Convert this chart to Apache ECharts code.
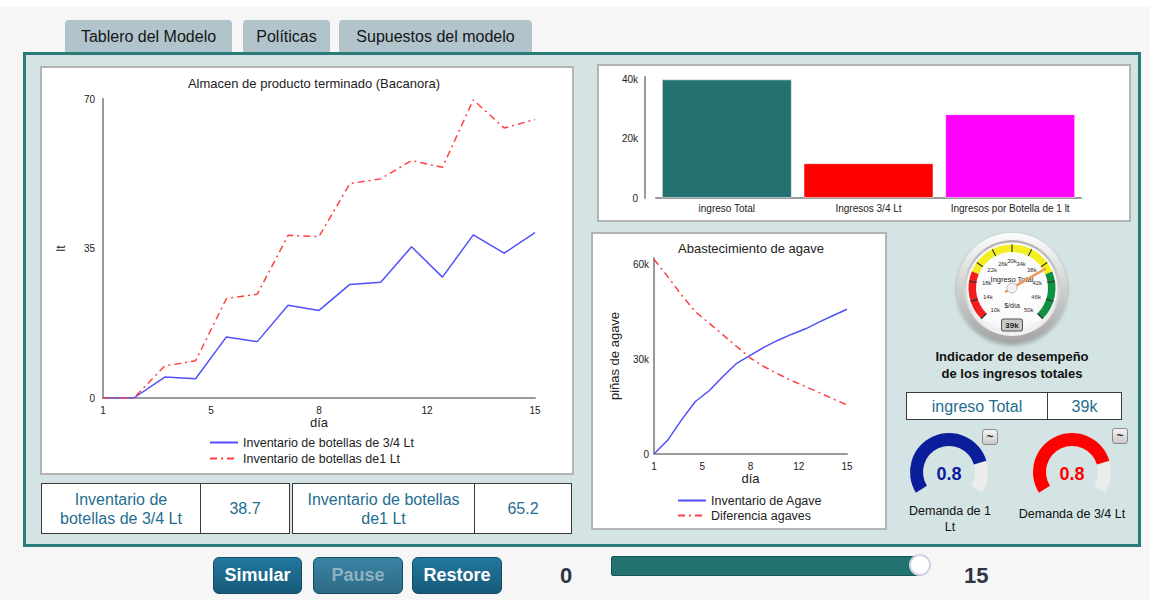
<!DOCTYPE html>
<html>
<head>
<meta charset="utf-8">
<script src="https://cdn.jsdelivr.net/npm/echarts@6/dist/echarts.min.js"></script>
<style>
html,body{margin:0;padding:0;width:1150px;height:600px;overflow:hidden;background:#f6f6f6;font-family:"Liberation Sans",Arial,sans-serif;}
.abs{position:absolute;box-sizing:border-box;}
.tab{background:#b1c3cb;border-radius:4px 4px 0 0;font-size:16px;color:#151515;display:flex;align-items:center;justify-content:center;}
.box{background:#fff;border:2px solid #b4b4b4;}
.vt{background:#fff;border:1.5px solid #3a3a3a;display:flex;color:#1f6e8f;font-size:16px;line-height:19px;}
.vt div{display:flex;align-items:center;justify-content:center;text-align:center;}
.btn{border-radius:6px;background:linear-gradient(#2378a0,#165a78);border:1px solid #124b63;color:#fff;font-family:"Liberation Sans Narrow","Liberation Sans",sans-serif;font-weight:bold;font-size:18px;display:flex;align-items:center;justify-content:center;}
.tl{width:16px;height:16px;border-radius:3px;background:linear-gradient(#f4f4f4,#c9c9c9);border:1px solid #8c8c8c;font-size:12px;font-weight:bold;color:#333;display:flex;align-items:center;justify-content:center;}
.big{font-family:"Liberation Sans Narrow","Liberation Sans",sans-serif;font-weight:bold;font-size:22px;color:#2e3546;}
#chart{position:absolute;left:0;top:0;width:1150px;height:600px;}
</style>
</head>
<body>
<div class="abs" style="left:0;top:0;width:1150px;height:7px;background:#fff"></div>
<div class="abs tab" style="left:65px;top:20px;width:167px;height:33px">Tablero del Modelo</div>
<div class="abs tab" style="left:243px;top:20px;width:87px;height:33px">Políticas</div>
<div class="abs tab" style="left:339px;top:20px;width:193px;height:33px">Supuestos del modelo</div>
<div class="abs" style="left:23px;top:52px;width:1118px;height:495px;border:3.5px solid #2b7b79;background:#d4e3e3"></div>
<div class="abs box" style="left:40px;top:66px;width:534px;height:409px"></div>
<div class="abs box" style="left:597px;top:64px;width:534px;height:158px"></div>
<div class="abs box" style="left:591px;top:232px;width:296px;height:298px"></div>

<div class="abs vt" style="left:41px;top:483px;width:249px;height:51px">
  <div style="width:158px;border-right:1.5px solid #3a3a3a">Inventario de<br>botellas de 3/4 Lt</div>
  <div style="flex:1" id="v34"></div>
</div>
<div class="abs vt" style="left:292px;top:483px;width:280px;height:51px">
  <div style="width:181px;border-right:1.5px solid #3a3a3a">Inventario de botellas<br>de1 Lt</div>
  <div style="flex:1" id="v1"></div>
</div>

<div class="abs" style="left:905px;top:348px;width:214px;text-align:center;font-weight:bold;font-size:13px;line-height:17px;color:#111">Indicador de desempeño<br>de los ingresos totales</div>
<div class="abs vt" style="left:906px;top:392px;width:216px;height:28px">
  <div style="width:140px;border-right:1.5px solid #3a3a3a">ingreso Total</div>
  <div style="flex:1" id="vTot"></div>
</div>
<div class="abs tl" style="left:982px;top:429px">~</div>
<div class="abs tl" style="left:1112px;top:428px">~</div>
<div class="abs" style="left:890px;top:503px;width:120px;text-align:center;font-size:12.5px;line-height:16px;color:#111">Demanda de 1<br>Lt</div>
<div class="abs" style="left:1005px;top:506px;width:134px;text-align:center;font-size:12.5px;line-height:16px;color:#111">Demanda de 3/4 Lt</div>

<div class="abs btn" style="left:213px;top:557px;width:89px;height:37px">Simular</div>
<div class="abs btn" style="left:313px;top:557px;width:90px;height:37px;background:linear-gradient(#3b83a3,#2d6b86);color:#8fb2c2">Pause</div>
<div class="abs btn" style="left:412px;top:557px;width:90px;height:37px">Restore</div>
<div class="abs big" style="left:560px;top:563px">0</div>
<div class="abs" style="left:611px;top:556px;width:311px;height:20px;background:#227272;border:1px solid #17555a;border-radius:2px"></div>
<div class="abs" style="left:909px;top:554px;width:22px;height:22px;border-radius:50%;background:#fff;border:2.5px solid #d3d3e6"></div>
<div class="abs big" style="left:964px;top:563px">15</div>

<div id="chart"></div>
<script>
// ---------- data ----------
const days = [1,2,3,4,5,6,7,8,9,10,11,12,13,14,15];
const dayTicks = [1,4.5,8,11.5,15];
const dayTickLabels = ['1','5','8','12','15'];

const inv34 = [0,0,4.9,4.5,14.3,13.2,21.7,20.5,26.6,27.1,35.4,28.3,38.2,33.9,38.7];
const inv1  = [0,0,7.5,8.7,23.3,24.3,38.1,37.8,50.2,51.3,55.6,54.0,69.8,63.2,65.2];
const invTicks = [0,35,70];

const ingresoCats = ['ingreso Total','Ingresos 3/4 Lt','Ingresos por Botella de 1 lt'];
const ingresoVals = [40200,11800,28400];
const ingresoTicks = [0,20000,40000];

const agaveInv = [0,4400,10800,16600,20000,24500,28700,31300,33800,36000,37900,39600,41800,43800,45800];
const agaveDif = [61600,56100,50300,45000,41400,37700,34000,30300,27600,25300,23200,21300,19400,17400,15500];
const agaveTicks = [0,30000,60000];

const ingresoTotalGauge = 38900;
const demanda1 = 0.8;
const demanda34 = 0.8;

// ---------- text values ----------
document.getElementById('v34').textContent = inv34[inv34.length-1].toFixed(1);
document.getElementById('v1').textContent = inv1[inv1.length-1].toFixed(1);
document.getElementById('vTot').textContent = Math.round(ingresoTotalGauge/1000) + 'k';

// ---------- chart ----------
const chart = echarts.init(document.getElementById('chart'), null, {renderer:'svg'});
const axisGrey = {lineStyle:{color:'#9a9a9a', width:2}};
const lblStyle = {fontSize:10, color:'#222'};
const kFmt = v => v === 0 ? '0' : (v/1000) + 'k';
const dayFmt = v => dayTickLabels[dayTicks.indexOf(v)];
const barColors = ['#237171','#ff0000','#ff00ff'];
const blue = '#5050ff', red = '#ff4040';
const dashDot = [7,4,2,4];

function dayAxis(grid, gap){
  return {type:'value', gridIndex:grid, min:1, max:15, axisLine:axisGrey, axisTick:{show:false},
    splitLine:{show:false}, axisLabel:Object.assign({customValues:dayTicks, formatter:dayFmt, margin:7}, lblStyle),
    name:'día', nameLocation:'middle', nameGap:gap, nameTextStyle:{fontSize:13, color:'#222'}};
}

const option = {
  animation:false,
  textStyle:{fontFamily:'Liberation Sans, Arial, sans-serif'},
  graphic:[
    {type:'text', x:314, y:83, style:{text:'Almacen de producto terminado (Bacanora)', fontSize:13, fill:'#222', align:'center', verticalAlign:'middle', fontFamily:'Liberation Sans'}},
    {type:'text', x:751, y:248, style:{text:'Abastecimiento de agave', fontSize:13, fill:'#222', align:'center', verticalAlign:'middle', fontFamily:'Liberation Sans'}},
    {type:'circle', shape:{cx:1012, cy:288, r:55}, style:{fill:new echarts.graphic.LinearGradient(0,0,0,1,[{offset:0,color:'#fdfdfd'},{offset:1,color:'#a4a4a4'}]), shadowBlur:4, shadowOffsetY:2, shadowColor:'rgba(0,0,0,0.3)'}},
    {type:'circle', shape:{cx:1012, cy:288, r:48}, style:{fill:new echarts.graphic.LinearGradient(0,0,0,1,[{offset:0,color:'#b4b4b4'},{offset:1,color:'#f4f4f4'}])}},
    {type:'circle', shape:{cx:1012, cy:288, r:45.5}, style:{fill:new echarts.graphic.RadialGradient(0.5,0.45,0.6,[{offset:0,color:'#ffffff'},{offset:0.8,color:'#fafafa'},{offset:1,color:'#e2e2e2'}])}},
    {type:'text', x:1012, y:305, z:5, style:{text:'$/día', fontSize:7, fill:'#222', align:'center', verticalAlign:'middle', fontFamily:'Liberation Sans'}}
  ],
  grid:[
    {left:103, top:99, width:432, height:299},
    {left:656, top:77, width:425, height:121},
    {left:654, top:258, width:193, height:196}
  ],
  legend:[
    {left:204, top:431, orient:'vertical', itemWidth:28, itemHeight:14, itemGap:3, itemStyle:{opacity:0},
     data:['Inventario de botellas de 3/4 Lt','Inventario de botellas de1 Lt'], textStyle:{fontSize:12.5, color:'#222'}},
    {left:672, top:489, orient:'vertical', itemWidth:28, itemHeight:14, itemGap:2, itemStyle:{opacity:0},
     data:['Inventario de Agave','Diferencia agaves'], textStyle:{fontSize:12.5, color:'#222'}}
  ],
  xAxis:[
    dayAxis(0, 17),
    {type:'category', gridIndex:1, data:ingresoCats, axisLine:axisGrey, axisTick:{show:false},
     axisLabel:Object.assign({margin:5, interval:0}, lblStyle)},
    dayAxis(2, 17)
  ],
  yAxis:[
    {type:'value', gridIndex:0, min:0, max:70, axisLine:{show:true, lineStyle:axisGrey.lineStyle}, axisTick:{show:false}, splitLine:{show:false},
     axisLabel:Object.assign({customValues:invTicks, margin:8}, lblStyle),
     name:'lt', nameLocation:'middle', nameGap:36, nameTextStyle:{fontSize:12, color:'#222'}},
    {type:'value', gridIndex:1, min:0, max:41000, offset:11, axisLine:{show:true, lineStyle:axisGrey.lineStyle}, axisTick:{show:false}, splitLine:{show:false},
     axisLabel:Object.assign({customValues:ingresoTicks, formatter:kFmt, margin:7}, lblStyle)},
    {type:'value', gridIndex:2, min:0, max:62000, axisLine:{show:true, lineStyle:axisGrey.lineStyle}, axisTick:{show:false}, splitLine:{show:false},
     axisLabel:Object.assign({customValues:agaveTicks, formatter:kFmt, margin:5}, lblStyle),
     name:'piñas de agave', nameLocation:'middle', nameGap:33, nameTextStyle:{fontSize:13, color:'#222'}}
  ],
  series:[
    {type:'line', name:'Inventario de botellas de 3/4 Lt', xAxisIndex:0, yAxisIndex:0, symbol:'none',
     data:days.map((d,i)=>[d,inv34[i]]), lineStyle:{color:blue, width:1.5}, itemStyle:{color:blue}},
    {type:'line', name:'Inventario de botellas de1 Lt', xAxisIndex:0, yAxisIndex:0, symbol:'none',
     data:days.map((d,i)=>[d,inv1[i]]), lineStyle:{color:red, width:1.5, type:dashDot}, itemStyle:{color:red}},
    {type:'bar', xAxisIndex:1, yAxisIndex:1, barWidth:130,
     data:ingresoVals.map((v,i)=>({value:v, itemStyle:{color:barColors[i], borderColor:'rgba(255,255,255,0.5)', borderWidth:1}}))},
    {type:'line', name:'Inventario de Agave', xAxisIndex:2, yAxisIndex:2, symbol:'none',
     data:days.map((d,i)=>[d,agaveInv[i]]), lineStyle:{color:blue, width:1.5}, itemStyle:{color:blue}},
    {type:'line', name:'Diferencia agaves', xAxisIndex:2, yAxisIndex:2, symbol:'none',
     data:days.map((d,i)=>[d,agaveDif[i]]), lineStyle:{color:red, width:1.5, type:dashDot}, itemStyle:{color:red}},
    {type:'gauge', center:[1012,288], radius:43.5, startAngle:225, endAngle:-45, min:10000, max:50000, splitNumber:10,
     axisLine:{lineStyle:{width:7.5, color:[[0.25,'#f21d1d'],[0.75,'#f4f020'],[1,'#0e9142']]}},
     splitLine:{length:7.5, distance:-7.5, lineStyle:{color:'#333', width:1.2}},
     axisTick:{show:false},
     axisLabel:{distance:13, fontSize:6, color:'#333', formatter:v=>(v/1000)+'k'},
     pointer:{icon:'rect', width:2.5, length:47, offsetCenter:[0,8], itemStyle:{color:'#f39556'}},
     anchor:{show:true, size:10, showAbove:true, itemStyle:{color:'#f2f2f2', borderColor:'#bdbdbd', borderWidth:1}},
     title:{offsetCenter:[0,-9], fontSize:7.5, color:'#222'},
     detail:{offsetCenter:[0,37], width:18, height:9, lineHeight:9, formatter:v=>Math.round(v/1000)+'k', fontSize:8, fontWeight:'bold', color:'#222',
       backgroundColor:'#c9c9c9', borderColor:'#555', borderWidth:1, borderRadius:2, padding:[1,1]},
     data:[{value:ingresoTotalGauge, name:'Ingreso Total'}]},
    {type:'gauge', center:[949,472], radius:39, startAngle:212, endAngle:-32, min:0, max:1,
     axisLine:{lineStyle:{width:13, color:[[1,'#ececec']]}},
     progress:{show:true, width:13, itemStyle:{color:'#0a1d9b'}},
     splitLine:{show:false}, axisTick:{show:false}, axisLabel:{show:false}, pointer:{show:false}, anchor:{show:false},
     title:{show:false},
     detail:{offsetCenter:[0,2], fontSize:18, fontWeight:'bold', color:'#0a1d9b', formatter:v=>v.toFixed(1)},
     data:[{value:demanda1}]},
    {type:'gauge', center:[1072,472], radius:39, startAngle:212, endAngle:-32, min:0, max:1,
     axisLine:{lineStyle:{width:13, color:[[1,'#ececec']]}},
     progress:{show:true, width:13, itemStyle:{color:'#ff0000'}},
     splitLine:{show:false}, axisTick:{show:false}, axisLabel:{show:false}, pointer:{show:false}, anchor:{show:false},
     title:{show:false},
     detail:{offsetCenter:[0,2], fontSize:18, fontWeight:'bold', color:'#ff0000', formatter:v=>v.toFixed(1)},
     data:[{value:demanda34}]}
  ]
};
chart.setOption(option);
</script>
</body>
</html>
